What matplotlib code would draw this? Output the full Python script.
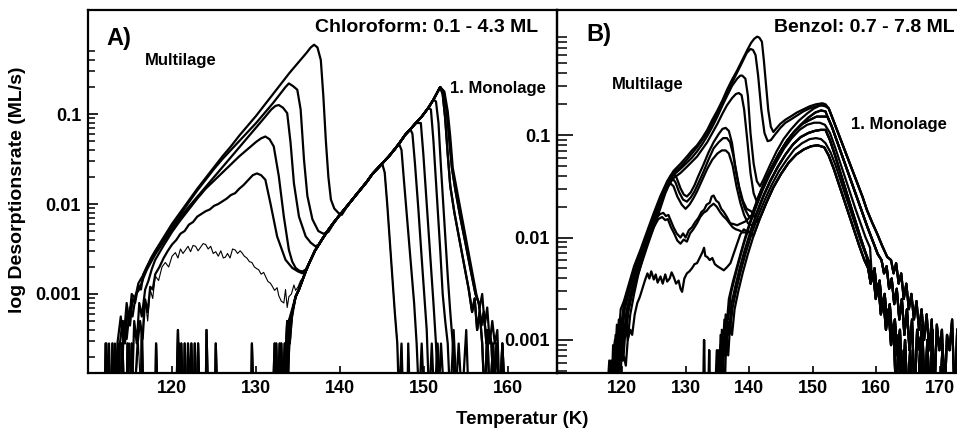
import matplotlib
matplotlib.use('Agg')
import matplotlib.pyplot as plt
from matplotlib.ticker import FixedLocator, FixedFormatter, NullFormatter
import numpy as np

plt.rcParams.update({
    'font.family': ['Liberation Sans', 'DejaVu Sans'],
    'font.weight': 'bold',
})

W, H = 957, 433
LW = 1.6

# ---------------------------------------------------------------
# data: (temperature K, log10 desorption rate ML/s)
# BA / BB = below the axis floor (baseline)
# ---------------------------------------------------------------
BA = -4.2
BB = -3.6

# ---- panel A: chloroform ----
a_mono_rise = [(134.3, -3.2), (134.7, -3.03), (135.1, -2.95), (135.5, -2.85), (135.9, -2.75),
               (136.3, -2.66), (137.0, -2.52), (137.8, -2.40), (138.5, -2.30), (139.2, -2.21),
               (139.8, -2.14), (140.5, -2.06), (141.2, -1.98), (141.8, -1.91), (142.5, -1.83),
               (143.2, -1.75), (143.8, -1.67), (144.5, -1.60), (145.0, -1.55), (145.8, -1.47),
               (146.5, -1.39), (147.0, -1.33), (147.75, -1.23), (148.35, -1.17), (149.0, -1.10),
               (149.7, -1.03), (150.5, -0.93), (151.1, -0.84), (151.5, -0.77), (151.9, -0.70)]

a_tail_1 = [(152.3, -0.76), (152.7, -0.97), (153.0, -1.3), (153.3, -1.6), (153.7, -1.84),
            (154.3, -2.15), (154.9, -2.43), (155.5, -2.72), (156.1, -3.0), (156.5, -3.1),
            (156.8, -3.35), (157.1, -3.2), (157.4, -3.55), (157.7, -3.4), (158.0, -3.55),
            (158.3, BA), (158.6, -3.55), (159.0, BA), (159.3, -3.55), (159.6, BA)]
a_tail_2 = [(152.2, -0.78), (152.5, -1.05), (152.8, -1.45), (153.1, -1.8), (153.6, -2.1),
            (154.2, -2.4), (154.8, -2.7), (155.3, -2.95), (155.7, -3.2), (156.0, -3.05),
            (156.3, -3.4), (156.6, -3.2), (156.9, -3.55), (157.2, BA), (157.5, -3.4),
            (157.8, BA), (158.2, -3.55), (158.5, BA)]
a_tail_3 = [(152.4, -0.75), (152.8, -0.97), (153.1, -1.25), (153.4, -1.6), (153.8, -1.8),
            (154.4, -2.1), (155.0, -2.4), (155.6, -2.7), (156.2, -3.0), (156.6, -3.15),
            (156.9, -3.0), (157.2, -3.35), (157.5, -3.15), (157.8, -3.55), (158.1, -3.3),
            (158.4, -3.55), (158.7, -3.4), (159.0, BA), (159.3, -3.55), (159.6, BA)]

a1_multi = [(112.0, BA), (112.2, -3.55), (112.4, BA), (113.0, BA), (113.2, -3.55), (113.4, BA),
            (113.8, -3.55), (114.1, -3.3), (114.4, -3.55), (114.7, -3.2), (115.0, -3.35),
            (115.3, -3.05), (115.6, -3.1), (116.0, -2.9), (116.3, -2.95), (116.6, -2.78),
            (117.0, -2.7), (117.5, -2.6), (118.0, -2.52), (119.0, -2.37), (120.0, -2.22),
            (121.0, -2.09), (122.0, -1.96), (123.0, -1.83), (124.0, -1.71), (125.0, -1.59),
            (126.0, -1.47), (127.0, -1.36), (128.0, -1.24), (129.0, -1.13), (130.0, -1.02),
            (131.0, -0.90), (132.0, -0.78), (133.0, -0.66), (134.0, -0.54), (135.0, -0.43),
            (136.0, -0.32), (136.5, -0.26), (136.9, -0.23), (137.3, -0.26), (137.7, -0.4),
            (138.0, -0.8), (138.3, -1.3), (138.6, -1.7), (138.9, -1.95), (139.3, -2.05),
            (139.8, -2.1), (140.2, -2.12), (140.6, -2.06)]
a2_multi = [(112.3, BA), (112.5, -3.55), (112.7, BA), (113.3, BA), (113.5, -3.55), (113.9, -3.25),
            (114.2, -3.55), (114.6, -3.1), (114.9, -3.3), (115.2, -3.0), (115.6, -3.05),
            (116.0, -2.88), (116.5, -2.8), (117.0, -2.7), (118.0, -2.53), (119.0, -2.39),
            (120.0, -2.25), (121.0, -2.12), (122.0, -1.98), (123.0, -1.85), (124.0, -1.73),
            (125.0, -1.61), (126.0, -1.5), (127.0, -1.4), (128.0, -1.3), (129.0, -1.2),
            (130.0, -1.1), (131.0, -0.99), (132.0, -0.88), (133.0, -0.76), (133.5, -0.70),
            (133.9, -0.66), (134.4, -0.69), (134.9, -0.73), (135.3, -0.95), (135.7, -1.51),
            (136.1, -1.91), (136.7, -2.17), (137.4, -2.30), (138.0, -2.33), (138.6, -2.31),
            (139.2, -2.22)]
a3_multi = [(113.2, BA), (113.6, -3.55), (113.9, BA), (114.3, -3.3), (114.6, -3.5), (115.0, -3.15),
            (115.3, -3.25), (115.7, -3.0), (116.1, -2.95), (116.6, -2.82), (117.0, -2.73),
            (118.0, -2.56), (119.0, -2.42), (120.0, -2.28), (121.0, -2.15), (122.0, -2.03),
            (123.0, -1.92), (124.0, -1.81), (125.0, -1.70), (126.0, -1.59), (127.0, -1.48),
            (128.0, -1.37), (129.0, -1.26), (130.0, -1.15), (131.0, -1.04), (131.8, -0.95),
            (132.3, -0.91), (132.7, -0.90), (133.2, -0.93), (133.7, -0.99), (134.1, -1.32),
            (134.5, -1.77), (135.1, -2.14), (135.9, -2.36), (136.5, -2.43), (137.05, -2.47),
            (137.5, -2.45)]
a4_multi = [(114.5, BA), (114.9, -3.55), (115.2, BA), (115.5, -3.3), (115.8, -3.55), (116.1, -3.1),
            (116.4, -3.25), (116.8, -2.95), (117.2, -2.85), (117.6, -2.72), (118.0, -2.62),
            (119.0, -2.46), (120.0, -2.31), (121.0, -2.18), (122.0, -2.06), (123.0, -1.94),
            (124.0, -1.83), (125.0, -1.74), (126.0, -1.65), (127.0, -1.56), (128.0, -1.47),
            (129.0, -1.39), (130.0, -1.31), (130.6, -1.27), (131.1, -1.25), (131.6, -1.28),
            (132.1, -1.36), (132.7, -1.69), (133.3, -2.14), (133.9, -2.51), (134.3, -2.64),
            (134.7, -2.71), (135.1, -2.74), (135.5, -2.75), (135.9, -2.73)]
a5_multi = [(115.5, BA), (115.9, -3.55), (116.2, -3.3), (116.5, -3.5), (116.8, -3.06), (117.1, -3.2),
            (117.4, -2.92), (117.7, -2.95), (118.0, -2.78), (118.5, -2.7), (119.0, -2.6),
            (119.5, -2.52), (120.0, -2.45), (120.5, -2.4), (121.0, -2.33), (121.5, -2.3),
            (122.0, -2.23), (122.5, -2.2), (123.0, -2.14), (123.5, -2.11), (124.0, -2.08),
            (124.5, -2.06), (125.0, -2.02), (125.5, -2.0), (126.0, -1.97), (126.5, -1.94),
            (127.0, -1.9), (127.5, -1.88), (128.0, -1.83), (128.5, -1.79), (129.0, -1.74),
            (129.6, -1.68), (130.1, -1.66), (130.6, -1.68), (131.1, -1.73), (131.7, -1.99),
            (132.5, -2.36), (133.5, -2.62), (134.3, -2.71), (135.0, -2.75), (135.5, -2.77),
            (136.0, -2.72)]
a6_thin = [(115.5, BA), (116.0, -3.55), (116.3, BA), (116.6, -3.2), (116.8, -3.06), (117.1, -3.3),
           (117.4, -2.95), (117.7, -3.05), (118.0, -2.80), (118.4, -2.85), (118.8, -2.7),
           (119.2, -2.65), (119.6, -2.7), (120.0, -2.58), (120.4, -2.54), (120.7, -2.6),
           (121.0, -2.5), (121.3, -2.55), (121.6, -2.51), (121.9, -2.47), (122.2, -2.53),
           (122.5, -2.46), (122.8, -2.47), (123.1, -2.52), (123.4, -2.48), (123.7, -2.44),
           (124.0, -2.45), (124.3, -2.5), (124.6, -2.47), (124.9, -2.55), (125.2, -2.53),
           (125.5, -2.58), (125.8, -2.52), (126.1, -2.6), (126.35, -2.59), (126.6, -2.55),
           (126.9, -2.6), (127.2, -2.5), (127.5, -2.51), (127.8, -2.55), (128.1, -2.52),
           (128.3, -2.54), (128.6, -2.58), (128.9, -2.6), (129.2, -2.64), (129.5, -2.65),
           (129.8, -2.7), (130.1, -2.72), (130.3, -2.73), (130.6, -2.78), (130.9, -2.76),
           (131.1, -2.80), (131.4, -2.86), (131.7, -2.88), (131.9, -2.91), (132.2, -2.96),
           (132.5, -2.93), (132.7, -3.02), (133.0, -3.08), (133.3, -3.10), (133.5, -2.95),
           (133.7, -3.15), (133.9, -3.03), (134.2, -3.0), (134.5, -2.9), (134.7, -2.96),
           (135.0, -2.92), (135.3, -2.85), (135.6, -2.82)]

a_base_1 = [(110.3, BA), (112.0, BA), (112.1, -3.55), (112.3, BA), (114.0, BA), (114.1, -3.55),
            (114.3, BA), (118.0, BA), (118.1, -3.55), (118.3, BA), (120.5, BA), (120.7, -3.4),
            (120.9, BA), (121.4, BA), (121.5, -3.55), (121.7, BA), (124.0, BA), (124.1, -3.4),
            (124.3, BA), (129.4, BA), (129.5, -3.55), (129.7, BA), (132.3, BA), (132.4, -3.55),
            (132.6, BA), (133.2, BA), (133.4, -3.55), (133.6, BA), (133.9, -3.3)]
a_base_2 = [(110.3, BA), (112.8, BA), (112.9, -3.55), (113.1, BA), (114.6, BA), (114.7, -3.55),
            (114.9, BA), (116.3, BA), (116.4, -3.4), (116.6, BA), (121.0, BA), (121.1, -3.55),
            (121.3, BA), (122.6, BA), (122.7, -3.55), (122.9, BA), (125.1, BA), (125.2, -3.55),
            (125.4, BA), (132.6, BA), (132.8, -3.55), (133.0, BA), (133.5, -3.55), (133.7, BA),
            (134.0, -3.4)]
a_base_3 = [(110.3, BA), (113.9, BA), (114.0, -3.55), (114.2, BA), (115.1, BA), (115.2, -3.55),
            (115.4, BA), (120.7, BA), (120.8, -3.55), (121.0, BA), (121.8, BA), (121.9, -3.55),
            (122.1, BA), (122.3, -3.55), (122.5, BA), (123.0, BA), (123.1, -3.55), (123.3, BA),
            (132.0, BA), (132.2, -3.55), (132.4, BA), (133.0, -3.55), (133.2, BA), (133.7, -3.3),
            (134.0, -3.55)]

a_drop_1 = [(145.3, -1.65), (145.6, -2.0), (145.9, -2.4), (146.2, -2.8), (146.5, -3.2),
            (146.8, -3.55), (147.0, BA), (147.3, -3.55), (147.5, BA), (148.0, BA), (148.1, -3.55),
            (148.3, BA), (160.0, BA)]
a_drop_2 = [(147.3, -1.4), (147.6, -1.75), (148.0, -2.2), (148.4, -2.65), (148.8, -3.1),
            (149.1, -3.55), (149.4, BA), (149.7, -3.55), (150.0, BA), (160.0, BA)]
a_drop_3 = [(148.6, -1.22), (148.9, -1.55), (149.3, -2.05), (149.7, -2.6), (150.0, -3.0),
            (150.3, -3.4), (150.6, BA), (150.9, -3.55), (151.2, BA), (151.6, -3.55), (151.9, BA),
            (160.0, BA)]
a_drop_4 = [(149.6, -1.1), (149.9, -1.45), (150.3, -2.0), (150.7, -2.55), (151.1, -3.1),
            (151.4, -3.55), (151.7, BA), (152.0, -3.55), (152.4, BA), (160.0, BA)]
a_drop_5 = [(150.8, -0.95), (151.1, -1.3), (151.5, -1.9), (151.9, -2.5), (152.2, -3.0),
            (152.5, -3.3), (152.8, -3.55), (153.1, BA), (153.5, -3.4), (153.9, BA), (160.0, BA)]
a_drop_6 = [(151.4, -0.86), (151.7, -1.1), (152.0, -1.6), (152.4, -2.2), (152.8, -2.8),
            (153.1, -3.2), (153.4, -3.55), (153.7, BA), (154.1, -3.55), (154.5, BA),
            (155.0, -3.4), (155.3, BA), (160.0, BA)]

# ---- panel B: benzene ----
b_mono_hi = [(138.4, -2.17), (139.15, -1.99), (140.2, -1.79), (141.25, -1.60), (142.2, -1.44),
             (143.3, -1.29), (144.3, -1.16), (145.4, -1.04), (146.5, -0.95), (147.8, -0.86),
             (149.1, -0.79), (150.2, -0.74), (151.2, -0.71), (151.9, -0.71)]
b_mono_mh = [(139.5, -1.95), (140.4, -1.78), (141.4, -1.61), (142.4, -1.46), (143.5, -1.32),
             (144.6, -1.19), (145.7, -1.08), (146.9, -0.98), (148.1, -0.90), (149.3, -0.83),
             (150.4, -0.78), (151.3, -0.76), (152.0, -0.77)]
b_mono_mid = [(134.6, BB), (134.9, -3.1), (135.2, BB), (135.5, -2.95), (135.8, -3.15), (136.1, -2.8),
              (136.4, -2.9), (136.8, -2.6), (137.4, -2.44), (138.1, -2.28), (138.9, -2.1),
              (139.7, -1.93), (140.6, -1.76), (141.6, -1.59), (142.6, -1.44), (143.7, -1.30),
              (144.8, -1.17), (146.0, -1.05), (147.2, -0.96), (148.4, -0.89), (149.6, -0.85),
              (150.6, -0.82), (151.5, -0.82)]
b_mono_m2 = [(134.8, BB), (135.1, -3.1), (135.4, BB), (135.7, -2.9), (136.0, -3.1), (136.3, -2.75),
             (136.7, -2.8), (137.1, -2.55), (137.7, -2.4), (138.4, -2.23), (139.2, -2.05),
             (140.1, -1.87), (141.1, -1.70), (142.1, -1.54), (143.2, -1.39), (144.3, -1.26),
             (145.5, -1.13), (146.7, -1.03), (147.9, -0.95), (149.1, -0.90), (150.2, -0.88),
             (151.1, -0.88), (151.9, -0.90), (152.7, -0.98), (153.5, -1.12), (154.3, -1.27),
             (155.1, -1.42), (155.9, -1.57), (156.7, -1.72), (157.5, -1.86), (158.3, -2.0),
             (159.0, -2.1)]
b_mono_lo = [(135.0, BB), (135.3, -3.1), (135.6, BB), (135.9, -2.95), (136.2, -3.15), (136.5, -2.8),
             (136.8, -2.95), (137.2, -2.65), (137.8, -2.48), (138.5, -2.30), (139.3, -2.12),
             (140.2, -1.94), (141.2, -1.76), (142.2, -1.60), (143.3, -1.45), (144.5, -1.31),
             (145.7, -1.19), (146.9, -1.09), (148.1, -1.02), (149.3, -0.98), (150.3, -0.96),
             (151.2, -0.95)]
b_mono_l2 = [(135.2, BB), (135.5, -3.05), (135.8, BB), (136.1, -2.95), (136.4, -3.15), (136.7, -2.82),
             (137.0, -2.9), (137.4, -2.68), (138.0, -2.5), (138.7, -2.32), (139.5, -2.14),
             (140.4, -1.96), (141.4, -1.79), (142.4, -1.64), (143.5, -1.49), (144.7, -1.35),
             (145.9, -1.24), (147.1, -1.14), (148.3, -1.08), (149.5, -1.04), (150.5, -1.03),
             (151.3, -1.04), (152.0, -1.08), (152.8, -1.17), (153.6, -1.30), (154.4, -1.45),
             (155.2, -1.60), (156.0, -1.75), (156.8, -1.90), (157.6, -2.05), (158.4, -2.18)]
b_mono_vlo = [(135.5, BB), (135.8, -3.1), (136.1, BB), (136.4, -2.95), (136.7, -3.15), (137.0, -2.85),
              (137.3, -2.95), (137.7, -2.7), (138.3, -2.52), (139.0, -2.34), (139.8, -2.16),
              (140.7, -1.98), (141.7, -1.81), (142.7, -1.66), (143.8, -1.51), (145.0, -1.38),
              (146.2, -1.27), (147.4, -1.19), (148.6, -1.14), (149.7, -1.11), (150.7, -1.10),
              (151.3, -1.11)]

b_tail_1 = [(152.5, -0.74), (153.0, -0.82), (153.8, -0.95), (154.6, -1.08), (155.4, -1.21),
            (156.2, -1.34), (157.0, -1.47), (157.8, -1.60), (158.5, -1.73), (159.3, -1.85),
            (160.1, -1.96), (160.9, -2.08), (161.7, -2.19), (162.3, -2.22), (162.7, -2.35),
            (163.1, -2.25), (163.5, -2.45), (163.9, -2.35), (164.3, -2.6), (164.7, -2.45),
            (165.1, -2.7), (165.5, -2.55), (165.9, -2.8), (166.3, -2.62), (166.7, -2.9),
            (167.1, -2.7), (167.5, -3.0), (167.9, -2.75), (168.3, -3.1), (168.7, -2.8),
            (169.1, BB), (169.5, -2.85), (169.9, -3.1), (170.3, -2.9), (170.7, BB),
            (171.1, -2.95), (171.5, -3.1), (171.9, -2.8), (172.3, BB), (172.7, -2.9)]
b_tail_2 = [(152.3, -0.82), (153.0, -0.92), (153.8, -1.06), (154.6, -1.20), (155.4, -1.34),
            (156.2, -1.48), (157.0, -1.62), (157.8, -1.76), (158.6, -1.90), (159.4, -2.03),
            (160.2, -2.16), (160.8, -2.22), (161.2, -2.35), (161.6, -2.28), (162.0, -2.5),
            (162.4, -2.4), (162.8, -2.65), (163.2, -2.5), (163.6, -2.8), (164.0, -2.6),
            (164.4, -2.95), (164.8, -2.7), (165.2, -3.1), (165.6, -2.8), (166.0, BB),
            (166.4, -2.9), (166.8, -3.1), (167.2, -2.85), (167.6, BB), (168.0, -3.0),
            (168.4, BB), (168.8, -2.9), (169.2, BB), (170.0, BB), (170.4, -3.05), (170.8, BB),
            (172.8, BB)]
b_tail_3 = [(152.0, -0.95), (152.7, -1.05), (153.5, -1.20), (154.3, -1.36), (155.1, -1.52),
            (155.9, -1.68), (156.7, -1.84), (157.5, -2.0), (158.3, -2.15), (158.9, -2.25),
            (159.3, -2.4), (159.7, -2.3), (160.1, -2.55), (160.5, -2.42), (160.9, -2.7),
            (161.3, -2.55), (161.7, -2.85), (162.1, -2.65), (162.5, -3.0), (162.9, -2.8),
            (163.3, -3.15), (163.7, -2.9), (164.1, BB), (164.5, -3.0), (164.9, BB),
            (165.3, -3.1), (165.7, BB), (166.5, BB), (166.9, -3.05), (167.3, BB), (172.8, BB)]
b_tail_4 = [(151.8, -1.12), (152.5, -1.20), (153.3, -1.33), (154.1, -1.48), (154.9, -1.63),
            (155.7, -1.78), (156.5, -1.93), (157.3, -2.08), (158.1, -2.22), (158.7, -2.3),
            (159.1, -2.45), (159.5, -2.35), (159.9, -2.6), (160.3, -2.45), (160.7, -2.75),
            (161.1, -2.6), (161.5, -2.9), (161.9, -2.7), (162.3, -3.05), (162.7, -2.85),
            (163.1, BB), (163.5, -2.95), (163.9, BB), (164.3, -3.1), (164.7, BB), (172.8, BB)]

b1_multi = [(117.6, BB), (118.0, -3.2), (118.3, BB), (118.6, -3.05), (118.9, -3.2), (119.2, -2.85),
            (119.5, -2.95), (119.8, -2.7), (120.3, -2.62), (121.1, -2.45), (121.9, -2.28),
            (122.9, -2.12), (124.0, -1.93), (125.0, -1.76), (126.0, -1.60), (127.1, -1.45),
            (128.1, -1.35), (129.2, -1.28), (130.2, -1.21), (131.0, -1.15), (131.8, -1.10),
            (132.6, -1.03), (133.4, -0.95), (134.2, -0.85), (135.0, -0.76), (135.8, -0.66),
            (136.5, -0.56), (137.3, -0.46), (138.1, -0.37), (138.9, -0.27), (139.7, -0.17),
            (140.3, -0.10), (140.8, -0.06), (141.25, -0.04), (141.6, -0.05), (142.0, -0.09),
            (142.3, -0.27), (142.7, -0.55), (143.0, -0.76), (143.4, -0.92), (143.8, -0.97),
            (144.2, -0.94), (144.9, -0.89), (145.7, -0.85), (146.5, -0.82), (147.5, -0.78),
            (148.5, -0.75), (149.5, -0.72), (150.5, -0.70), (151.5, -0.69), (152.0, -0.70)]
b2_multi = [(117.9, BB), (118.3, -3.2), (118.6, BB), (118.9, -3.0), (119.2, -3.2), (119.5, -2.8),
            (119.9, -2.85), (120.3, -2.65), (121.1, -2.48), (121.9, -2.31), (122.9, -2.15),
            (124.0, -1.96), (125.0, -1.79), (126.0, -1.63), (127.1, -1.47), (128.1, -1.37),
            (129.2, -1.31), (130.2, -1.24), (131.0, -1.18), (131.8, -1.12), (132.6, -1.05),
            (133.4, -0.98), (134.2, -0.88), (135.0, -0.79), (135.8, -0.69), (136.5, -0.59),
            (137.3, -0.49), (138.1, -0.39), (138.9, -0.29), (139.6, -0.20), (140.2, -0.16),
            (140.6, -0.17), (141.0, -0.22), (141.4, -0.42), (141.9, -0.75), (142.4, -0.98),
            (142.9, -1.06), (143.4, -1.05), (144.0, -1.0), (144.9, -0.93), (145.7, -0.88),
            (146.5, -0.85), (147.5, -0.81), (148.5, -0.77), (149.5, -0.74), (150.5, -0.72),
            (151.3, -0.71), (152.0, -0.72)]
b3_multi = [(118.2, BB), (118.6, -3.2), (118.9, -3.0), (119.2, -3.2), (119.6, -2.85), (119.9, -2.95),
            (120.3, -2.68), (121.1, -2.5), (121.9, -2.33), (122.9, -2.17), (124.0, -1.98),
            (125.0, -1.81), (126.0, -1.65), (127.1, -1.49), (128.1, -1.39), (129.2, -1.33),
            (130.2, -1.27), (131.0, -1.22), (131.8, -1.16), (132.6, -1.09), (133.4, -1.01),
            (134.2, -0.92), (135.0, -0.82), (135.8, -0.71), (136.5, -0.62), (137.3, -0.52),
            (138.1, -0.45), (138.6, -0.42), (138.9, -0.42), (139.4, -0.45), (139.8, -0.62),
            (140.2, -0.98), (140.7, -1.28), (141.2, -1.45), (141.7, -1.50)]
b4_multi = [(118.4, BB), (118.8, -3.2), (119.1, -2.95), (119.4, -3.15), (119.8, -2.8), (120.1, -2.9),
            (120.4, -2.7), (121.1, -2.52), (121.9, -2.35), (122.9, -2.19), (124.0, -2.0),
            (125.0, -1.83), (126.0, -1.67), (127.1, -1.51), (128.1, -1.42), (129.2, -1.37),
            (130.2, -1.31), (131.0, -1.26), (131.8, -1.21), (132.6, -1.14), (133.4, -1.07),
            (134.2, -0.98), (135.0, -0.89), (135.8, -0.79), (136.5, -0.71), (137.3, -0.64),
            (137.9, -0.60), (138.36, -0.59), (138.8, -0.61), (139.2, -0.75), (139.7, -1.05),
            (140.2, -1.37), (140.7, -1.57), (141.2, -1.65)]
b5_multi = [(118.3, BB), (118.7, -3.2), (119.0, -2.95), (119.3, -3.15), (119.7, -2.85), (120.0, -2.9),
            (120.4, -2.7), (121.1, -2.52), (121.9, -2.36), (122.9, -2.2), (124.0, -2.01),
            (125.0, -1.84), (126.0, -1.67), (126.9, -1.50), (127.6, -1.40), (128.1, -1.37),
            (128.6, -1.42), (129.2, -1.52), (129.7, -1.58), (130.2, -1.60), (130.8, -1.56),
            (131.4, -1.49), (132.0, -1.40), (132.8, -1.29), (133.6, -1.17), (134.4, -1.07),
            (135.2, -0.99), (135.8, -0.94), (136.3, -0.93), (136.8, -0.96), (137.3, -1.08),
            (137.8, -1.30), (138.4, -1.50), (139.0, -1.64), (139.6, -1.72), (140.2, -1.74)]
b6_multi = [(118.6, BB), (119.0, -3.2), (119.3, -3.0), (119.6, -3.2), (120.0, -2.85), (120.3, -2.95),
            (120.7, -2.72), (121.3, -2.55), (122.0, -2.4), (123.0, -2.22), (124.0, -2.04),
            (125.0, -1.86), (126.0, -1.69), (126.9, -1.53), (127.5, -1.45), (127.9, -1.42),
            (128.4, -1.46), (129.0, -1.56), (129.6, -1.63), (130.2, -1.65), (130.8, -1.61),
            (131.4, -1.55), (132.0, -1.47), (132.8, -1.36), (133.6, -1.24), (134.4, -1.13),
            (135.2, -1.07), (135.9, -1.03), (136.5, -1.03), (137.0, -1.07), (137.5, -1.20),
            (138.1, -1.42), (138.7, -1.60), (139.3, -1.72), (139.9, -1.79), (140.5, -1.80),
            (141.0, -1.78)]
b7_multi = [(118.8, BB), (119.2, -3.2), (119.5, -2.95), (119.8, -3.2), (120.2, -2.9), (120.5, -2.95),
            (120.9, -2.75), (121.5, -2.58), (122.2, -2.42), (123.1, -2.25), (124.0, -2.08),
            (125.0, -1.90), (126.0, -1.72), (126.8, -1.57), (127.3, -1.50), (127.6, -1.47),
            (128.1, -1.50), (128.7, -1.60), (129.4, -1.68), (130.0, -1.72), (130.6, -1.68),
            (131.2, -1.62), (131.8, -1.55), (132.6, -1.44), (133.4, -1.33), (134.2, -1.24),
            (135.0, -1.18), (135.7, -1.15), (136.3, -1.15), (136.8, -1.18), (137.4, -1.30),
            (138.0, -1.50), (138.6, -1.66), (139.2, -1.78), (139.8, -1.86), (140.4, -1.88),
            (141.0, -1.85)]
b8_multi = [(119.0, BB), (119.4, -3.2), (119.7, -3.0), (120.0, -3.2), (120.4, -2.85), (120.7, -2.95),
            (121.0, -2.7), (121.6, -2.5), (122.4, -2.3), (123.2, -2.12), (124.0, -1.98),
            (124.8, -1.87), (125.5, -1.80), (126.0, -1.77), (126.5, -1.76), (126.9, -1.79),
            (127.3, -1.78), (127.7, -1.84), (128.1, -1.90), (128.6, -1.96), (129.2, -2.0),
            (129.6, -1.96), (130.0, -2.0), (130.5, -1.93), (131.0, -1.90), (131.5, -1.85),
            (132.0, -1.81), (132.5, -1.75), (132.9, -1.73), (133.3, -1.68), (133.8, -1.66),
            (134.1, -1.60), (134.4, -1.59), (134.8, -1.64), (135.2, -1.66), (135.6, -1.72),
            (136.0, -1.75), (136.5, -1.80), (137.0, -1.86), (137.6, -1.87), (138.1, -1.88),
            (138.8, -1.86), (139.5, -1.84)]
b9_multi = [(119.2, BB), (119.6, -3.2), (119.9, -2.95), (120.2, -3.2), (120.6, -2.85), (120.9, -3.0),
            (121.3, -2.75), (121.9, -2.55), (122.6, -2.35), (123.4, -2.17), (124.2, -2.02),
            (125.0, -1.90), (125.7, -1.82), (126.3, -1.80), (126.8, -1.83), (127.2, -1.82),
            (127.7, -1.90), (128.2, -1.96), (128.7, -2.03), (129.2, -2.06), (129.7, -2.02),
            (130.2, -2.04), (130.7, -1.96), (131.2, -1.92), (131.8, -1.86), (132.3, -1.80),
            (132.8, -1.76), (133.3, -1.74), (133.8, -1.70), (134.4, -1.67), (134.9, -1.70),
            (135.4, -1.75), (135.9, -1.79), (136.4, -1.82), (136.9, -1.86), (137.4, -1.90),
            (137.9, -1.92), (138.4, -1.93), (139.0, -1.95), (139.6, -1.95)]
b10_multi = [(119.5, BB), (119.9, -3.2), (120.3, -3.16), (120.6, -3.25), (120.9, -3.0), (121.3, -2.9),
             (121.6, -2.95), (122.0, -2.75), (122.4, -2.64), (122.8, -2.58), (123.2, -2.50),
             (123.6, -2.42), (124.0, -2.35), (124.3, -2.40), (124.6, -2.33), (125.0, -2.41),
             (125.3, -2.36), (125.6, -2.44), (126.05, -2.38), (126.4, -2.45), (126.8, -2.36),
             (127.1, -2.43), (127.5, -2.40), (127.8, -2.34), (128.1, -2.38), (128.5, -2.45),
             (128.9, -2.42), (129.2, -2.50), (129.45, -2.53), (129.8, -2.40), (130.2, -2.35),
             (130.6, -2.33), (131.0, -2.30), (131.4, -2.26), (131.8, -2.25), (132.2, -2.20),
             (132.6, -2.15), (132.9, -2.10), (133.1, -2.18), (133.4, -2.19), (133.8, -2.22),
             (134.2, -2.20), (134.6, -2.26), (135.0, -2.28), (135.5, -2.30), (136.0, -2.32),
             (136.5, -2.29), (137.05, -2.25), (137.6, -2.15), (138.1, -2.06), (138.6, -1.97),
             (139.15, -1.92)]

b_base_1 = [(117.5, BB), (132.8, BB), (132.9, -3.0), (133.0, BB)]
b_base_2 = [(117.5, BB), (133.6, BB), (133.7, -3.1), (133.8, BB)]
b_base_3 = [(117.5, BB)]


def pick(seg, lo, hi=999.0):
    return [p for p in seg if lo <= p[0] <= hi]


def xy(*parts):
    pts = [p for part in parts for p in part]
    t = np.array([p[0] for p in pts])
    r = 10.0 ** np.array([p[1] for p in pts])
    return t, r


curves_a = [
    xy(a1_multi, pick(a_mono_rise, 141.2), a_tail_1),
    xy(a2_multi, pick(a_mono_rise, 139.8), a_tail_3),
    xy(a3_multi, pick(a_mono_rise, 137.8), a_tail_2),
    xy(a4_multi, pick(a_mono_rise, 136.3), a_tail_1),
    xy(a5_multi, pick(a_mono_rise, 136.3), a_tail_2),
    xy(a_base_1, pick(a_mono_rise, 134.3, 145.0), a_drop_1),
    xy(a_base_2, pick(a_mono_rise, 134.3, 147.0), a_drop_2),
    xy(a_base_3, pick(a_mono_rise, 134.3, 148.35), a_drop_3),
    xy(a_base_1, pick(a_mono_rise, 134.7, 149.3), a_drop_4),
    xy(a_base_2, pick(a_mono_rise, 134.7, 150.5), a_drop_5),
    xy(a_base_3, pick(a_mono_rise, 134.3, 151.1), a_drop_6),
]
thin_a = xy(a6_thin, pick(a_mono_rise, 135.9, 145.0), a_drop_1)

curves_b = [
    xy(b1_multi, b_tail_1),
    xy(b2_multi, b_tail_1),
    xy(b3_multi, pick(b_mono_hi, 142.2), b_tail_1),
    xy(b4_multi, pick(b_mono_mh, 141.4), b_tail_2),
    xy(b5_multi, pick(b_mono_mid, 140.6), b_tail_2),
    xy(b6_multi, pick(b_mono_lo, 141.2), b_tail_3),
    xy(b7_multi, pick(b_mono_vlo, 141.7), b_tail_4),
    xy(b8_multi, pick(b_mono_mh, 140.4), b_tail_2),
    xy(b9_multi, pick(b_mono_lo, 140.2), b_tail_3),
    xy(b10_multi, pick(b_mono_vlo, 140.7), b_tail_4),
    xy(b_base_1, b_mono_mid, b_tail_2),
    xy(b_base_2, b_mono_lo, b_tail_3),
    xy(b_base_3, b_mono_vlo, b_tail_4),
    xy(b_base_2, b_mono_m2, pick(b_tail_3, 159.3)),
    xy(b_base_1, b_mono_l2, pick(b_tail_4, 158.7)),
]

# ---------------------------------------------------------------
fig = plt.figure(figsize=(W / 100, H / 100), dpi=100)
fig.patch.set_facecolor('white')


def box(x0, y0, x1, y1):
    return [x0 / W, 1 - y1 / H, (x1 - x0) / W, (y1 - y0) / H]


axA = fig.add_axes(box(88, 10, 557, 373))
axB = fig.add_axes(box(557, 10, 957, 373))

for t, r in curves_a:
    axA.plot(t, r, color='black', lw=LW)
axA.plot(thin_a[0], thin_a[1], color='black', lw=0.8)

for t, r in curves_b:
    axB.plot(t, r, color='black', lw=LW)

axA.set_yscale('log')
axB.set_yscale('log')
axA.set_xlim(110.0, 165.8)
axA.set_ylim(10 ** -3.878, 10 ** 0.156)
axB.set_xlim(109.78, 172.67)
axB.set_ylim(10 ** -3.322, 10 ** 0.22)

minor_a = [k * 10.0 ** e for e in (-4, -3, -2) for k in range(2, 10)] + [0.2, 0.3, 0.4, 0.5]
minor_b = [k * 10.0 ** e for e in (-4, -3, -2, -1) for k in range(2, 10)]

for ax, minors, majlen, minlen in ((axA, minor_a, 7.5, 5), (axB, minor_b, 11.5, 7)):
    ax.yaxis.set_major_locator(FixedLocator([0.001, 0.01, 0.1]))
    ax.yaxis.set_major_formatter(FixedFormatter(['0.001', '0.01', '0.1']))
    ax.yaxis.set_minor_locator(FixedLocator(minors))
    ax.yaxis.set_minor_formatter(NullFormatter())
    ax.tick_params(axis='y', which='major', direction='in', length=majlen, width=1.2,
                   labelsize=13, pad=5, right=False)
    ax.tick_params(axis='y', which='minor', direction='in', length=minlen, width=1.1, right=False)
    ax.tick_params(axis='x', which='major', direction='in', length=5, width=1.2,
                   labelsize=13, pad=5, top=False)
    ax.tick_params(axis='x', which='minor', bottom=False, top=False)
    for s in ax.spines.values():
        s.set_linewidth(1.6)
    for lab in ax.get_xticklabels() + ax.get_yticklabels():
        lab.set_fontweight('bold')

axA.set_xticks([120, 130, 140, 150, 160])
axB.set_xticks([120, 130, 140, 150, 160, 170])
axB.spines['right'].set_visible(False)
axB.set_zorder(3)
axB.patch.set_alpha(0)


def label(x, y, s, size, ha='left'):
    fig.text(x / W, 1 - y / H, s, fontsize=size, fontweight='bold', ha=ha, va='center')


label(106, 38, 'A)', 17)
label(538, 27, 'Chloroform: 0.1 - 4.3 ML', 14, ha='right')
label(145, 60, 'Multilage', 12)
label(450, 89, '1. Monolage', 12)
label(586, 34, 'B)', 17)
label(955, 27, 'Benzol: 0.7 - 7.8 ML', 14, ha='right')
label(612, 84, 'Multilage', 12)
label(851, 125, '1. Monolage', 12)

fig.text(18 / W, 1 - 190 / H, 'log Desorptionsrate (ML/s)', fontsize=14, fontweight='bold',
         rotation=90, ha='center', va='center')
fig.text(522 / W, 1 - 420 / H, 'Temperatur (K)', fontsize=13.5, fontweight='bold',
         ha='center', va='center')

fig.savefig('out.png', dpi=100, facecolor='white')
